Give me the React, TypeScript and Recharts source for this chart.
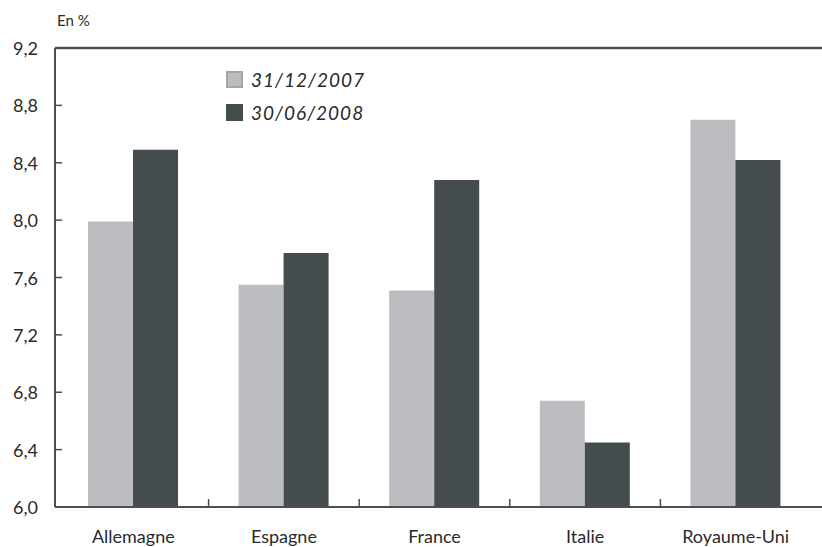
import { BarChart, Bar, XAxis, YAxis, ReferenceLine } from 'recharts';

const countries = ['Allemagne', 'Espagne', 'France', 'Italie', 'Royaume-Uni'];
const dec2007 = [7.99, 7.55, 7.51, 6.74, 8.7];
const jun2008 = [8.49, 7.77, 8.28, 6.45, 8.42];
const yTicks = [6.0, 6.4, 6.8, 7.2, 7.6, 8.0, 8.4, 8.8, 9.2];
const seriesNames = ['31/12/2007', '30/06/2008'];

const data = countries.map((c, i) => ({ name: c, d2007: dec2007[i], d2008: jun2008[i] }));

const LIGHT = '#bcbdc0';
const DARK = '#444c4e';
const AXIS = '#485052';
const FONT = 'Lato, "Open Sans", sans-serif';

const CHART_W = 822;
const CHART_H = 547;
const LEFT = 55;
const PAD_L = 3;
const PAD_R = 11;
const BAND = (CHART_W - LEFT - PAD_L - PAD_R) / countries.length;

const fmt = (v: number) => v.toFixed(1).replace('.', ',');

const YTick = ({ x, y, payload }: any) => (
  <g>
    <line x1={x} x2={x + 7} y1={y} y2={y} stroke={AXIS} strokeWidth={1.5} />
    <text
      x={x - 17}
      y={y}
      textAnchor="end"
      dominantBaseline="central"
      fontSize={18}
      fill="#2a2a2a"
      fontFamily={FONT}
    >
      {fmt(payload.value)}
    </text>
  </g>
);

const XTick = ({ x, y, payload, index }: any) => (
  <g>
    {index < countries.length - 1 && (
      <line x1={x + BAND / 2} x2={x + BAND / 2} y1={y - 8} y2={y} stroke={AXIS} strokeWidth={1.5} />
    )}
    <text x={x} y={y + 36} textAnchor="middle" fontSize={18} fill="#2a2a2a" fontFamily={FONT}>
      {payload.value}
    </text>
  </g>
);

const LegendBox = () => (
  <div
    style={{
      position: 'absolute',
      left: 226,
      top: 63,
      fontFamily: FONT,
      fontStyle: 'italic',
      fontSize: 19,
      color: '#2a2a2a',
      letterSpacing: 1,
    }}
  >
    {seriesNames.map((n, i) => (
      <div key={n} style={{ display: 'flex', alignItems: 'center', height: 33 }}>
        <span
          style={{
            display: 'inline-block',
            width: i === 0 ? 13 : 17,
            height: i === 0 ? 13 : 17,
            background: i === 0 ? LIGHT : DARK,
            border: i === 0 ? '2px solid #a3a5a8' : 'none',
            marginRight: 8,
          }}
        />
        <span>{n}</span>
      </div>
    ))}
  </div>
);

export default function App() {
  return (
    <div style={{ position: 'absolute', left: 0, top: 0, width: CHART_W, height: CHART_H, background: '#fff' }}>
      <div style={{ position: 'absolute', left: 57, top: 11, fontFamily: FONT, fontSize: 15, color: '#2a2a2a' }}>
        En %
      </div>
      <BarChart
        width={CHART_W}
        height={CHART_H}
        data={data}
        margin={{ top: 48, right: 0, bottom: 39, left: 0 }}
        barCategoryGap={30}
        barGap={0}
      >
        <XAxis
          dataKey="name"
          height={1}
          padding={{ left: PAD_L, right: PAD_R }}
          stroke={AXIS}
          strokeWidth={2}
          tickLine={false}
          tickSize={0}
          tickMargin={0}
          tick={<XTick />}
          interval={0}
        />
        <YAxis
          width={LEFT}
          domain={[6, 9.2]}
          ticks={yTicks}
          allowDataOverflow
          stroke={AXIS}
          strokeWidth={2}
          tickLine={false}
          tickSize={0}
          tickMargin={0}
          tick={<YTick />}
          interval={0}
        />
        <Bar dataKey="d2007" name={seriesNames[0]} fill={LIGHT} isAnimationActive={false} />
        <Bar dataKey="d2008" name={seriesNames[1]} fill={DARK} isAnimationActive={false} />
        <ReferenceLine y={9.2} stroke={AXIS} strokeWidth={2.5} />
      </BarChart>
      <LegendBox />
    </div>
  );
}
